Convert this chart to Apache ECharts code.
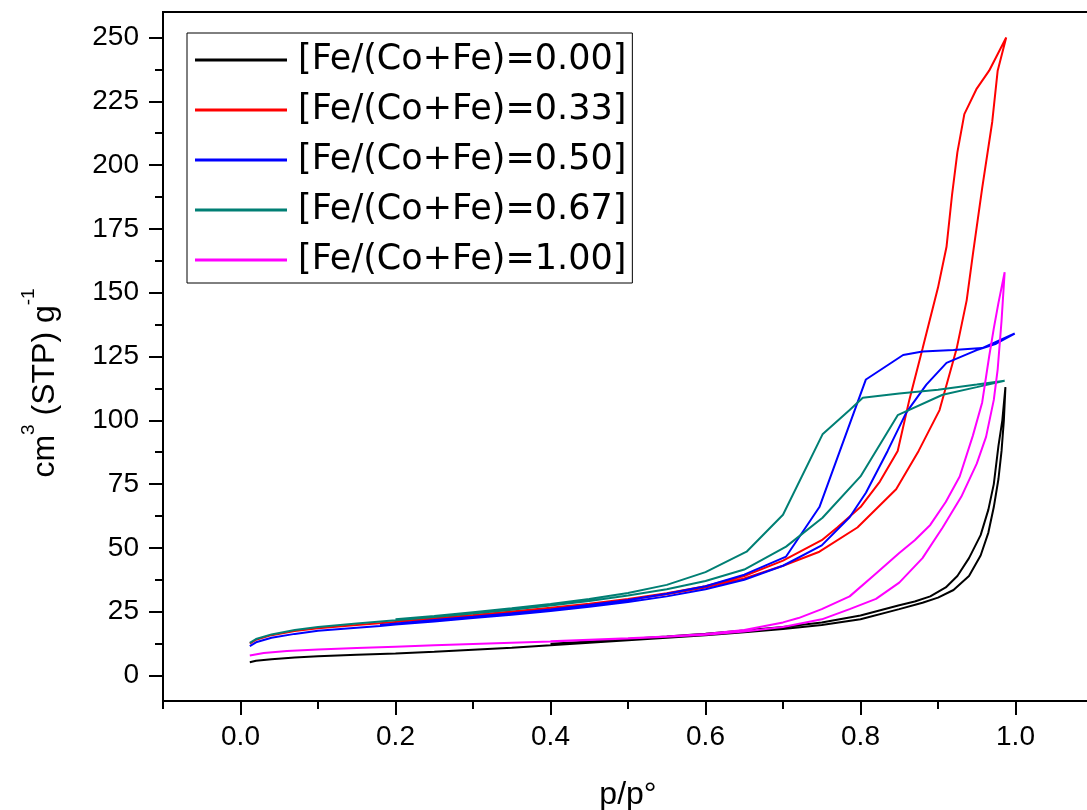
<!DOCTYPE html>
<html>
<head>
<meta charset="utf-8">
<script src="https://cdn.jsdelivr.net/npm/echarts@6/dist/echarts.min.js"></script>
<style>
html,body{margin:0;padding:0;background:#fff;}
#chart{width:1087px;height:810px;}
</style>
</head>
<body>
<div id="chart"></div>
<script>
// ---- tick values ----
const xMajorTicks = [0, 0.2, 0.4, 0.6, 0.8, 1.0];
const xMinorTicks = [-0.1, 0.1, 0.3, 0.5, 0.7, 0.9];
const yMajorTicks = [0, 25, 50, 75, 100, 125, 150, 175, 200, 225, 250];
const yMinorTicks = [12.5, 37.5, 62.5, 87.5, 112.5, 137.5, 162.5, 187.5, 212.5, 237.5];

// ---- series names ----
const seriesNames = ['[Fe/(Co+Fe)=0.00]', '[Fe/(Co+Fe)=0.33]', '[Fe/(Co+Fe)=0.50]', '[Fe/(Co+Fe)=0.67]', '[Fe/(Co+Fe)=1.00]'];

// ---- data: [p/p0, volume]; adsorption branch then desorption branch ----
const fe000 = [
  [0.012,5.2],[0.02,5.8],[0.04,6.4],[0.07,7.0],[0.1,7.5],[0.15,8.1],[0.2,8.6],[0.25,9.3],[0.3,10.1],[0.35,10.9],
  [0.4,11.8],[0.45,12.8],[0.5,13.8],[0.55,14.8],[0.6,15.8],[0.65,16.9],[0.7,18.2],[0.75,19.8],[0.8,22.0],[0.85,26.0],
  [0.88,28.5],[0.9,30.5],[0.92,33.5],[0.94,39],[0.955,47],[0.965,56],[0.972,66],[0.978,77],[0.982,88],[0.985,100],[0.987,113],
  [0.983,100],[0.978,90],[0.972,75],[0.965,65],[0.955,55],[0.94,46],[0.925,39],[0.91,34.5],[0.89,31],[0.87,29],
  [0.85,27.5],[0.8,23.5],[0.75,20.8],[0.7,19],[0.65,17.6],[0.6,16.4],[0.55,15.3],[0.5,14.3],[0.45,13.3],[0.4,12.4]
];
const fe033 = [
  [0.012,12.5],[0.02,14],[0.04,15.8],[0.07,17.4],[0.1,18.5],[0.15,19.8],[0.2,21],[0.25,22.2],[0.3,23.5],[0.35,24.9],
  [0.4,26.3],[0.45,27.9],[0.5,29.7],[0.55,31.8],[0.6,34.5],[0.65,38],[0.7,43],[0.747,48.5],[0.796,58],[0.846,73],
  [0.875,88],[0.902,104],[0.924,128],[0.937,147],[0.945,165],[0.957,191],[0.970,217],[0.977,237],[0.988,250],
  [0.966,237],[0.95,230],[0.934,220],[0.925,205],[0.918,188],[0.911,168],[0.9,152],[0.88,128],[0.863,108],[0.848,88],
  [0.825,76],[0.8,66],[0.77,58],[0.75,53],[0.7,45],[0.65,39],[0.6,35],[0.55,32.2],[0.5,30],[0.45,28.1],[0.4,26.5],
  [0.35,25.1],[0.3,23.7],[0.25,22.4],[0.2,21.2]
];
const fe050 = [
  [0.012,11.5],[0.02,13],[0.04,14.8],[0.07,16.3],[0.1,17.5],[0.15,18.7],[0.18,19.4],[0.2,20],[0.25,21.2],[0.3,22.5],
  [0.35,23.8],[0.4,25.3],[0.45,26.9],[0.5,28.8],[0.55,31],[0.6,33.8],[0.65,37.5],[0.7,43],[0.75,51],[0.786,62],
  [0.807,71.6],[0.835,88],[0.859,103],[0.885,114],[0.911,122.5],[0.95,127.5],[0.975,130],[0.999,134],
  [0.957,128.3],[0.92,127.5],[0.88,127],[0.855,125.6],[0.807,116],[0.747,66],[0.704,46.6],[0.65,39.5],[0.6,35],
  [0.55,32],[0.5,29.6],[0.45,27.6],[0.4,25.9],[0.35,24.4],[0.3,23],[0.25,21.7],[0.18,19.8]
];
const fe067 = [
  [0.012,12.8],[0.02,14.3],[0.04,16.1],[0.07,17.8],[0.1,19],[0.15,20.4],[0.2,21.6],[0.25,22.9],[0.3,24.3],[0.35,25.8],
  [0.4,27.4],[0.45,29.2],[0.5,31.3],[0.55,33.8],[0.6,37],[0.65,41.5],[0.704,50.5],[0.751,61.8],[0.8,78],[0.848,102],
  [0.906,110],[0.95,113],[0.986,115.5],
  [0.95,114],[0.9,112],[0.85,110.5],[0.803,108.8],[0.786,104],[0.751,94.5],[0.7,63],[0.653,48.5],[0.6,40.5],[0.55,35.5],
  [0.5,32.3],[0.45,30],[0.4,28],[0.35,26.3],[0.3,24.8],[0.25,23.3],[0.2,22]
];
const fe100 = [
  [0.012,7.8],[0.03,8.8],[0.06,9.6],[0.1,10.2],[0.15,10.8],[0.2,11.3],[0.25,11.8],[0.3,12.3],[0.35,12.8],[0.4,13.3],
  [0.45,13.9],[0.5,14.5],[0.55,15.2],[0.6,16.0],[0.65,17.2],[0.7,19.0],[0.75,22.0],[0.786,26],[0.82,30],[0.85,36.4],
  [0.88,46],[0.906,58],[0.93,70],[0.95,83],[0.962,93.5],[0.972,108],[0.977,120],[0.982,139],[0.986,158],
  [0.978,146],[0.972,136],[0.966,125],[0.957,107],[0.945,94],[0.928,78],[0.91,68],[0.89,59],[0.87,53],[0.85,48],
  [0.82,40],[0.786,31],[0.75,26],[0.72,22.5],[0.7,20.8],[0.65,17.8],[0.6,16.3],[0.55,15.3],[0.5,14.6],[0.45,14.0],[0.4,13.4]
];

const seriesData = [fe000, fe033, fe050, fe067, fe100];
const seriesColors = ['#000000', '#ff0000', '#0000ff', '#007f74', '#ff00ff'];

const FONT = '"Liberation Sans", Arial, sans-serif';

const chart = echarts.init(document.getElementById('chart'), null, {renderer: 'canvas'});

const option = {
  animation: false,
  backgroundColor: '#ffffff',
  grid: {
    left: 163, top: 12, width: 930, height: 689,
    outerBoundsMode: 'none',
    containLabel: false,
    show: true, borderColor: '#000', borderWidth: 2, backgroundColor: 'transparent'
  },
  legend: {
    orient: 'vertical',
    left: 187, top: 33,
    padding: [7, 6, 3, 8],
    itemGap: 10,
    itemWidth: 92,
    itemHeight: 3,
    icon: 'rect',
    borderColor: '#000',
    borderWidth: 1,
    backgroundColor: '#fff',
    data: seriesNames,
    textStyle: {
      fontFamily: '"DejaVu Sans", sans-serif',
      fontSize: 35,
      color: '#000',
      lineHeight: 40,
      padding: [0, 0, 0, 6]
    }
  },
  xAxis: [
    {
      type: 'value', min: -0.1, max: 1.1, position: 'bottom',
      axisLine: {show: true, onZero: false, lineStyle: {color: '#000', width: 2}},
      axisTick: {show: true, inside: false, length: 14, lineStyle: {color: '#000', width: 2}, customValues: xMajorTicks},
      axisLabel: {
        show: true, customValues: xMajorTicks, margin: 22,
        fontFamily: FONT, fontSize: 28, color: '#000',
        formatter: function (v) { return v.toFixed(1); }
      },
      splitLine: {show: false},
      name: 'p/p°', nameLocation: 'middle', nameGap: 78,
      nameTextStyle: {fontFamily: FONT, fontSize: 32, color: '#000'}
    },
    {
      type: 'value', min: -0.1, max: 1.1, position: 'bottom', gridIndex: 0,
      axisLine: {show: false, onZero: false},
      axisTick: {show: true, inside: false, length: 8, lineStyle: {color: '#000', width: 2}, customValues: xMinorTicks},
      axisLabel: {show: false},
      splitLine: {show: false}
    }
  ],
  yAxis: [
    {
      type: 'value', min: -10, max: 260, position: 'left',
      axisLine: {show: true, onZero: false, lineStyle: {color: '#000', width: 2}},
      axisTick: {show: true, inside: false, length: 14, lineStyle: {color: '#000', width: 2}, customValues: yMajorTicks},
      axisLabel: {
        show: true, customValues: yMajorTicks, margin: 24,
        fontFamily: FONT, fontSize: 28, color: '#000'
      },
      splitLine: {show: false}
    },
    {
      type: 'value', min: -10, max: 260, position: 'left', gridIndex: 0,
      axisLine: {show: false, onZero: false},
      axisTick: {show: true, inside: false, length: 8, lineStyle: {color: '#000', width: 2}, customValues: yMinorTicks},
      axisLabel: {show: false},
      splitLine: {show: false}
    }
  ],
  graphic: [
    {
      type: 'text',
      x: 40, y: 383,
      rotation: Math.PI / 2,
      style: {
        text: '{a|cm}{s|3}{a| (STP) g}{s|-1}',
        align: 'center',
        verticalAlign: 'middle',
        fill: '#000',
        rich: {
          a: {fontFamily: FONT, fontSize: 32, fill: '#000', lineHeight: 42, verticalAlign: 'bottom'},
          s: {fontFamily: FONT, fontSize: 19, fill: '#000', lineHeight: 42, verticalAlign: 'top'}
        }
      }
    }
  ],
  series: seriesData.map(function (d, i) {
    return {
      name: seriesNames[i],
      type: 'line',
      xAxisIndex: 0,
      yAxisIndex: 0,
      data: d,
      showSymbol: false,
      symbol: 'none',
      smooth: false,
      color: seriesColors[i],
      lineStyle: {color: seriesColors[i], width: 2},
      itemStyle: {color: seriesColors[i]},
      clip: true
    };
  })
};

chart.setOption(option);
</script>
</body>
</html>
